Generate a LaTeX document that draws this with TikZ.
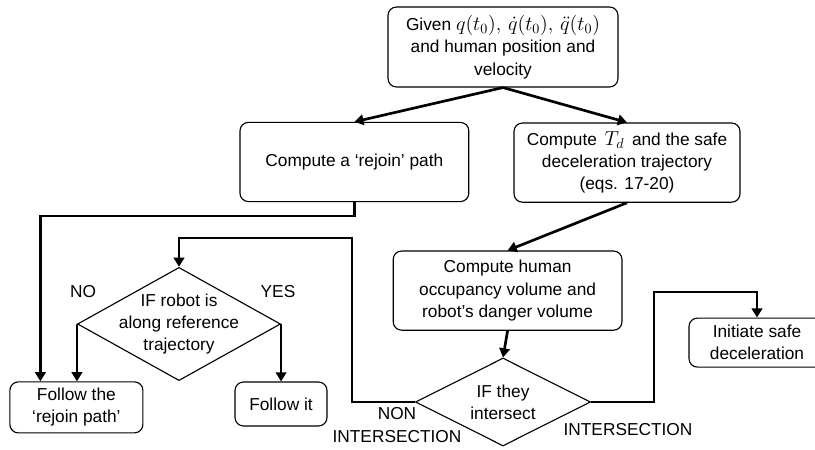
\documentclass[tikz,border=0pt]{standalone}
\usepackage{fontspec}
\setmainfont{Liberation Sans}
\usetikzlibrary{shapes.geometric,arrows.meta}

\begin{document}
\begin{tikzpicture}[
    font=\fontsize{12.3}{15.8}\selectfont,
    procbox/.style={draw,rounded corners=6pt,line width=0.8pt,align=center,inner sep=0pt},
    decision/.style={draw,diamond,line width=0.8pt,align=center,inner sep=-12pt},
    flowline/.style={line width=1.9pt,-{Triangle[length=6.5pt,width=7.5pt]}}]
    \useasboundingbox (0,0) rectangle (20.375,11.225);

    % Process boxes
    \node[procbox,minimum width=5.75cm,minimum height=2cm] (given) at (12.575,10.05)
        {Given {\fontsize{14}{15.8}\selectfont$q(t_0),\,\dot{q}(t_0),\,\ddot{q}(t_0)$}\\and human position and\\velocity};
    \node[procbox,minimum width=5.72cm,minimum height=1.98cm] (rejoin) at (8.86,7.175)
        {Compute a ‘rejoin’ path};
    \node[procbox,minimum width=5.65cm,minimum height=1.98cm] (decel) at (15.675,7.16)
        {Compute \,{\fontsize{14}{15.8}\selectfont$T_d$}\, and the safe\\deceleration trajectory\\(eqs. 17-20)};
    \node[procbox,minimum width=5.72cm,minimum height=1.98cm] (human) at (12.69,3.96)
        {Compute human\\occupancy volume and\\robot’s danger volume};
    \node[procbox,minimum width=3.325cm,minimum height=1.275cm] (rejoinpath) at (1.91,1.04)
        {Follow the\\‘rejoin path’};
    \node[procbox,minimum width=2.3cm,minimum height=1.1cm] (followit) at (7.025,1.125)
        {Follow it};
    \node[procbox,minimum width=3.4cm,minimum height=1.225cm] (initiate) at (18.925,2.66)
        {Initiate safe\\deceleration};

    % Decisions
    \node[decision,minimum width=5.075cm,minimum height=2.825cm] (onref) at (4.475,3.125)
        {IF robot is\\along reference\\trajectory};
    \node[decision,minimum width=4.375cm,minimum height=2.2cm] (meet) at (12.575,1.175)
        {IF they\\intersect};

    % Branch labels
    \node (no) at (2.075,3.925) {NO};
    \node (yes) at (6.95,3.925) {YES};
    \node[align=center] (nonint) at (9.925,0.6) {NON\\INTERSECTION};
    \node (int) at (15.7,0.475) {INTERSECTION};

    % Turning points
    \coordinate (back) at (8.8,5.275);
    \coordinate (up) at (16.35,3.925);

    % Connections
    \draw[flowline] (given.south) -- (rejoin.north);
    \draw[flowline] (given.south) -- (decel.north);
    \draw[flowline] (decel.south) -- (human.north);
    \draw[flowline] (human.south) -- (meet.north);
    \draw[flowline] (rejoin.south) -- ++(0,-0.35) -| ([xshift=-0.9cm]rejoinpath.north);
    \draw[flowline] (onref.west) -- (onref.west |- rejoinpath.north);
    \draw[flowline] (onref.east) -- (onref.east |- followit.north);
    \draw[flowline] (meet.west) -| (back) -| (onref.north);
    \draw[flowline] (meet.east) -| (up) -| (initiate.north);
\end{tikzpicture}
\end{document}
